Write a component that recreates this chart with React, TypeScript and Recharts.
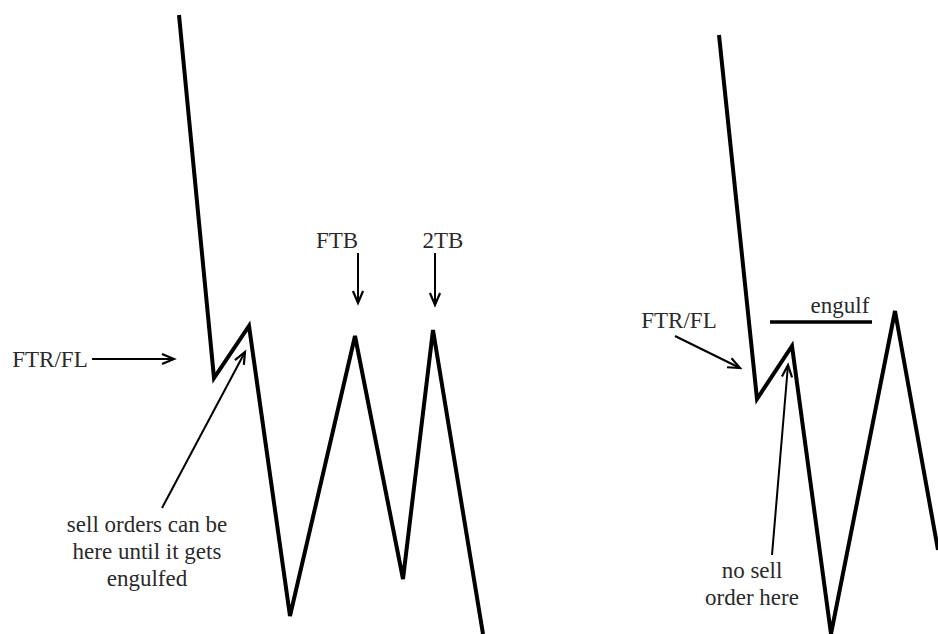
import React from "react";
import { ComposedChart, Line, Scatter, XAxis, YAxis } from "recharts";

// Price path (diagram units = pixels, y grows downward)
const leftPathX = [179, 214, 249, 290, 355, 403, 433, 483];
const leftPathY = [15, 378, 326, 616, 336, 579, 330, 634];
const rightPathX = [719, 757, 792, 831, 895, 938];
const rightPathY = [35, 399, 346, 634, 311, 550];

// Annotation arrows: from (x1,y1) to tip (x2,y2)
const arrowFromX = [92, 162, 358, 435, 675, 772];
const arrowFromY = [359, 508, 253, 253, 336, 555];
const arrowToX = [174, 245, 358, 435, 740, 788];
const arrowToY = [359, 352, 303, 305, 368, 365];

// Engulf level line
const engulfX = [770, 872];
const engulfY = [322, 322];

// Text labels (centre x, baseline y)
const labelText = [
  "FTR/FL",
  "FTB",
  "2TB",
  "sell orders can be",
  "here until it gets",
  "engulfed",
  "FTR/FL",
  "engulf",
  "no sell",
  "order here",
];
const labelX = [50, 337, 443, 147, 147, 147, 679, 840, 752, 752];
const labelY = [367, 248, 248, 532, 559, 586, 328, 313, 578, 605];

const W = 938;
const H = 634;

const toPts = (xs: number[], ys: number[]) => xs.map((x, i) => ({ x, y: ys[i] }));

const leftPath = toPts(leftPathX, leftPathY);
const rightPath = toPts(rightPathX, rightPathY);
const engulfLine = toPts(engulfX, engulfY);
const arrows = arrowFromX.map((x1, i) => ({
  shaft: [
    { x: x1, y: arrowFromY[i] },
    { x: arrowToX[i], y: arrowToY[i] },
  ],
  head: (() => {
    const x2 = arrowToX[i];
    const y2 = arrowToY[i];
    const a = Math.atan2(y2 - arrowFromY[i], x2 - x1);
    const len = 13;
    const sp = 0.4;
    return [
      { x: x2 - len * Math.cos(a - sp), y: y2 - len * Math.sin(a - sp) },
      { x: x2, y: y2 },
      { x: x2 - len * Math.cos(a + sp), y: y2 - len * Math.sin(a + sp) },
    ];
  })(),
}));
const labels = labelText.map((t, i) => ({ x: labelX[i], y: labelY[i], label: t }));

const TextShape = (props: any) => (
  <text
    x={props.cx}
    y={props.cy}
    textAnchor="middle"
    fontFamily="Liberation Serif"
    fontSize={23}
    fill="#2a2a2a"
  >
    {props.payload.label}
  </text>
);

export default function App() {
  return (
    <div style={{ position: "absolute", left: 0, top: 0, width: W, height: H, background: "#fff" }}>
      <ComposedChart width={W} height={H} margin={{ top: 0, right: 0, bottom: 0, left: 0 }}>
        <XAxis type="number" dataKey="x" domain={[0, W]} hide allowDataOverflow />
        <YAxis type="number" dataKey="y" domain={[0, H]} reversed hide allowDataOverflow />
        <Line
          data={leftPath}
          dataKey="y"
          type="linear"
          stroke="#000"
          strokeWidth={4}
          strokeLinejoin="miter"
          dot={false}
          activeDot={false}
          isAnimationActive={false}
        />
        <Line
          data={rightPath}
          dataKey="y"
          type="linear"
          stroke="#000"
          strokeWidth={4}
          strokeLinejoin="miter"
          dot={false}
          activeDot={false}
          isAnimationActive={false}
        />
        <Line
          data={engulfLine}
          dataKey="y"
          type="linear"
          stroke="#000"
          strokeWidth={3.5}
          dot={false}
          activeDot={false}
          isAnimationActive={false}
        />
        {arrows.map((a, i) => (
          <Line
            key={"s" + i}
            data={a.shaft}
            dataKey="y"
            type="linear"
            stroke="#000"
            strokeWidth={2}
            dot={false}
            activeDot={false}
            isAnimationActive={false}
          />
        ))}
        {arrows.map((a, i) => (
          <Line
            key={"h" + i}
            data={a.head}
            dataKey="y"
            type="linear"
            stroke="#000"
            strokeWidth={2.2}
            strokeLinejoin="miter"
            dot={false}
            activeDot={false}
            isAnimationActive={false}
          />
        ))}
        <Scatter data={labels} dataKey="y" shape={<TextShape />} isAnimationActive={false} />
      </ComposedChart>
    </div>
  );
}
